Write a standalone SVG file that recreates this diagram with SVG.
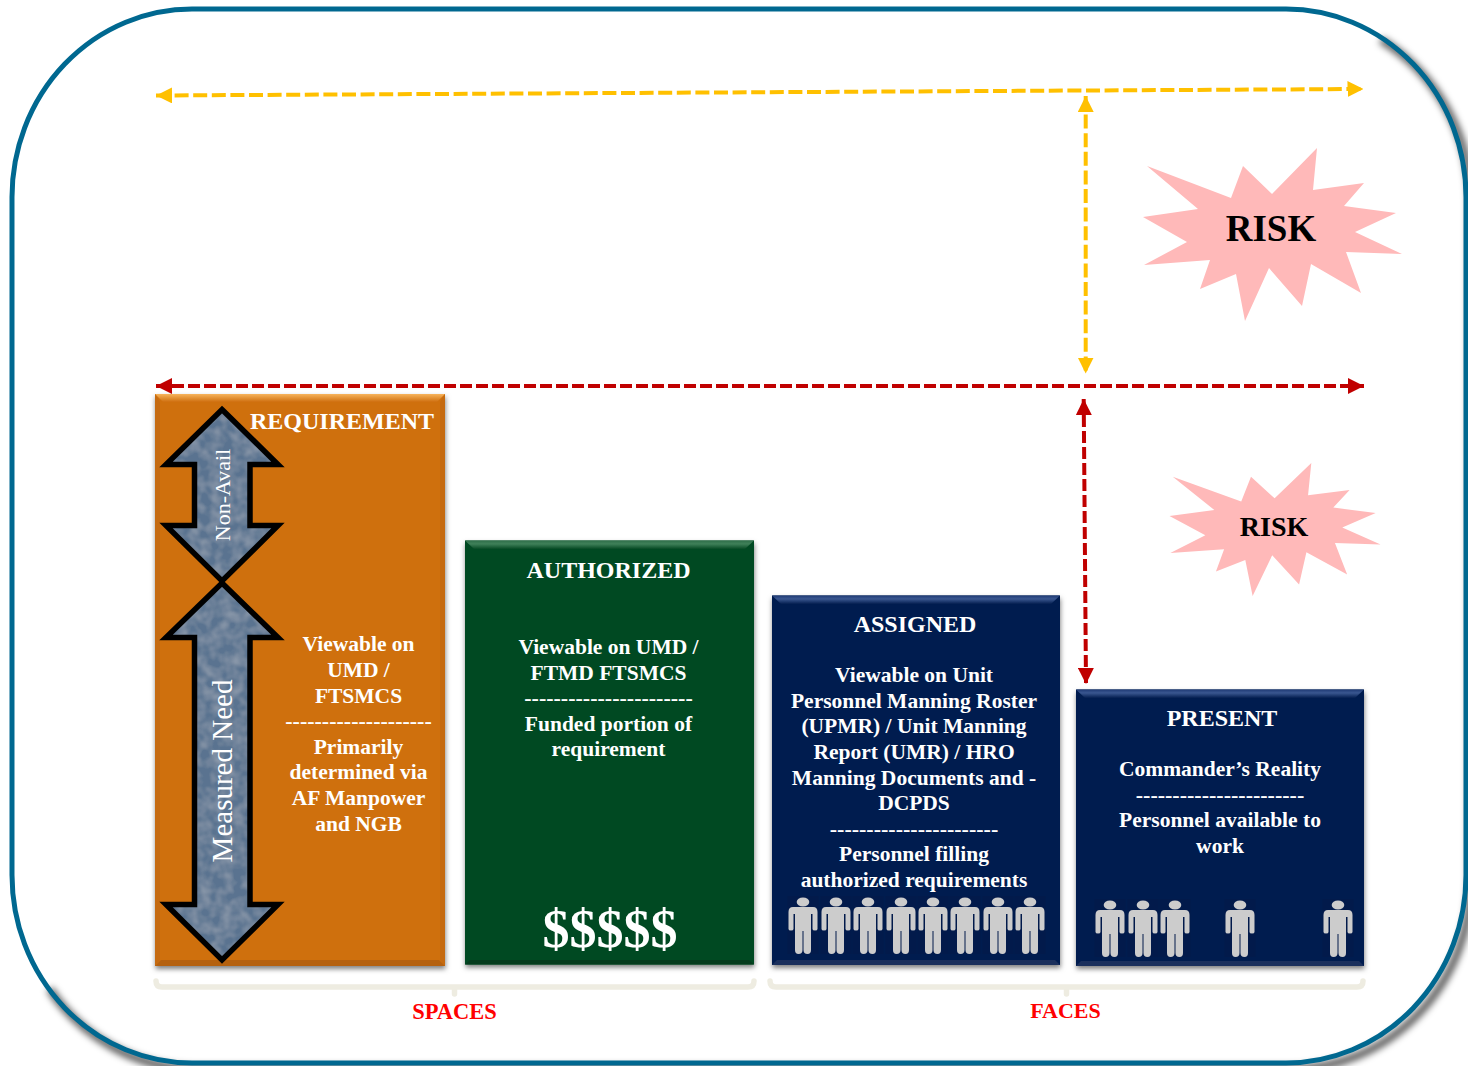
<svg xmlns="http://www.w3.org/2000/svg" width="1468" height="1066" viewBox="0 0 1468 1066">
<style>
text{font-family:"Liberation Serif","Times New Roman",serif;font-weight:bold;text-anchor:middle}
.w{fill:#fff;font-size:21.5px}
.d{fill:#fff;font-size:22px}
.h{fill:#fff;font-size:24px}
.red{fill:#f00;font-size:22px}
.risk{fill:#000}
.dy{fill:none;stroke:#ffc000;stroke-width:4;stroke-dasharray:14 4.600}
.dr{fill:none;stroke:#c00000;stroke-width:4;stroke-dasharray:12 4}
.af{fill:#5a7390;filter:url(#mott)}
.as{fill:none;stroke:#000;stroke-width:5.500;stroke-linejoin:miter}
.br{fill:none;stroke:#eeece1;stroke-width:5.500;stroke-linejoin:round;stroke-linecap:round}
.star{fill:#ffb9b9}
.person{fill:#ccc}
.tile{fill:#021a4b}
</style>
<defs>
<filter id="sh" x="-5%" y="-5%" width="110%" height="110%"><feDropShadow dx="0.500" dy="3" stdDeviation="2.500" flood-color="#000" flood-opacity=".5"/></filter>
<filter id="blur" x="-3%" y="-3%" width="106%" height="106%"><feGaussianBlur stdDeviation="3.500"/></filter>
<filter id="mott" x="0" y="0" width="100%" height="100%"><feTurbulence type="fractalNoise" baseFrequency=".09" numOctaves="2" seed="3" result="n"/><feColorMatrix in="n" type="matrix" values="0 0 0 0 1 0 0 0 0 1 0 0 0 0 1 .3 0 0 0 -.1" result="c"/><feComposite in="c" in2="SourceAlpha" operator="in" result="m"/><feMerge><feMergeNode in="SourceGraphic"/><feMergeNode in="m"/></feMerge></filter>
<linearGradient id="tO" x1="0" y1="0" x2="0" y2="1"><stop offset="0" stop-color="#f7b45c"/><stop offset="1" stop-color="#cf6f0f"/></linearGradient>
<linearGradient id="tG" x1="0" y1="0" x2="0" y2="1"><stop offset="0" stop-color="#2f6f4a"/><stop offset=".4" stop-color="#3f8059"/><stop offset="1" stop-color="#064a24"/></linearGradient>
<linearGradient id="tN" x1="0" y1="0" x2="0" y2="1"><stop offset="0" stop-color="#1f3a75"/><stop offset=".4" stop-color="#3a5790"/><stop offset="1" stop-color="#041e50"/></linearGradient>
<marker id="my" viewBox="0 0 10 10" refX="10" refY="5" markerWidth="4" markerHeight="4" orient="auto-start-reverse" markerUnits="strokeWidth"><path d="M0 0L10 5L0 10Z" fill="#ffc000"/></marker>
<marker id="mr" viewBox="0 0 10 10" refX="10" refY="5" markerWidth="4" markerHeight="4" orient="auto-start-reverse" markerUnits="strokeWidth"><path d="M0 0L10 5L0 10Z" fill="#c00000"/></marker>
<polygon id="burst" points="1147,166 1231,198 1243,166 1272,194 1317,148 1313,190 1364,183 1344,206 1396,213 1355,232 1402,254 1346,252 1361,293 1311,264 1302,306 1269,268 1245,321 1236,274 1200,289 1210,260 1144,265 1187,242 1143,217 1198,209"/>
<g id="man"><rect class="tile" x="-15.500" y="-31" width="31" height="58"/><g class="person"><ellipse cx="0" cy="-25" rx="6.300" ry="4.500"/><path d="M-10-20H10Q14.500-20 14.500-15V2Q14.500 3.500 12 3.500 9.500 3.500 9.500 2V-13H8V23Q8 27 4.500 27 .5 27 .5 23V4H-.5V23Q-.5 27-4.500 27-8 27-8 23V-13H-9.500V2Q-9.500 3.500-12 3.500-14.500 3.500-14.500 2V-15Q-14.500-20-10-20Z"/></g></g>
</defs>

<g id="frame">
<path d="M1381 40A180 188 0 0 1 1471 203V881A180 188 0 0 1 1291 1069H197A180 188 0 0 1 49.500 989" fill="none" stroke="#000" stroke-opacity=".7" stroke-width="7" filter="url(#blur)"/>
<rect x="12" y="9" width="1454" height="1054" rx="180" ry="188" fill="none" stroke="#006890" stroke-width="5"/>
</g>

<g id="connectors">
<path class="dy" d="M156 95.500L1363.500 89" marker-start="url(#my)" marker-end="url(#my)"/>
<path class="dy" d="M1085.700 96V373.500" marker-start="url(#my)" marker-end="url(#my)"/>
<path class="dr" d="M156 386H1364" marker-start="url(#mr)" marker-end="url(#mr)"/>
<path class="dr" d="M1083.700 399L1086 684" marker-start="url(#mr)" marker-end="url(#mr)"/>
<path class="br" d="M156 981Q156 987 162 987H748Q754 987 754 981M454.500 987V994"/>
<path class="br" d="M770 981Q770 987 776 987H1357Q1363 987 1363 981M1066.500 987V994"/>
</g>

<g id="requirement">
<rect x="155" y="394" width="290" height="572" fill="#cf6f0f" filter="url(#sh)"/>
<path d="M155 394H445L437 402H163Z" fill="url(#tO)"/>
<path d="M155 394L160 402V960L155 966Z" fill="#c56a10"/><path d="M445 394L440 402V960L445 966Z" fill="#c56a10"/><path d="M155 966L161 960H439L445 966Z" fill="#b5610f"/>
<text class="h" x="342" y="428.500">REQUIREMENT</text>
<text class="w" x="358.500" y="651">Viewable on</text>
<text class="w" x="358.500" y="677">UMD /</text>
<text class="w" x="358.500" y="703">FTSMCS</text>
<text class="d" x="358.500" y="728">--------------------</text>
<text class="w" x="358.500" y="754">Primarily</text>
<text class="w" x="358.500" y="779">determined via</text>
<text class="w" x="358.500" y="805">AF Manpower</text>
<text class="w" x="358.500" y="831">and NGB</text>
</g>

<g id="non-avail">
<polygon class="af" points="222,409.500 278,464.500 250,464.500 250,525.500 278,525.500 222,581 166,525.500 194.500,525.500 194.500,464.500 166,464.500"/>
<polygon class="as" points="222,409.500 278,464.500 250,464.500 250,525.500 278,525.500 222,581 166,525.500 194.500,525.500 194.500,464.500 166,464.500"/>
<text transform="translate(230 495) rotate(-90)" style="font-weight:normal;font-size:22px" fill="#fff">Non-Avail</text>
</g>
<g id="measured-need">
<polygon class="af" points="222,583 278,637.500 250,637.500 250,904.500 278,904.500 222,960 166,904.500 194.500,904.500 194.500,637.500 166,637.500"/>
<polygon class="as" points="222,583 278,637.500 250,637.500 250,904.500 278,904.500 222,960 166,904.500 194.500,904.500 194.500,637.500 166,637.500"/>
<text transform="translate(232 771) rotate(-90)" style="font-weight:normal;font-size:29px" fill="#fff">Measured Need</text>
</g>

<g id="authorized">
<rect x="465" y="540.500" width="289" height="424" fill="#064a24" filter="url(#sh)"/>
<path d="M465 540.500H754L745 549H474Z" fill="url(#tG)"/>
<path d="M465 964.500L470 960H749L754 964.500Z" fill="#053b1d"/>
<text class="h" x="608.500" y="578">AUTHORIZED</text>
<text class="w" x="608.500" y="654">Viewable on UMD /</text>
<text class="w" x="608.500" y="680">FTMD FTSMCS</text>
<text class="d" x="608.500" y="705">-----------------------</text>
<text class="w" x="608.500" y="731">Funded portion of</text>
<text class="w" x="608.500" y="756">requirement</text>
<text x="610" y="947" fill="#fff" style="font-size:54px">$$$$$</text>
</g>

<g id="assigned">
<rect x="772" y="595.500" width="288" height="369.500" fill="#041e50" filter="url(#sh)"/>
<path d="M772 595.500H1060L1051 604H781Z" fill="url(#tN)"/>
<path d="M772 965L777 960H1055L1060 965Z" fill="#1a2f5c"/>
<text class="h" x="915" y="631.500">ASSIGNED</text>
<text class="w" x="914" y="682">Viewable on Unit</text>
<text class="w" x="914" y="708">Personnel Manning Roster</text>
<text class="w" x="914" y="733">(UPMR) / Unit Manning</text>
<text class="w" x="914" y="759">Report (UMR) / HRO</text>
<text class="w" x="914" y="785">Manning Documents and -</text>
<text class="w" x="914" y="810">DCPDS</text>
<text class="d" x="914" y="836">-----------------------</text>
<text class="w" x="914" y="861">Personnel filling</text>
<text class="w" x="914" y="887">authorized requirements</text>
<use href="#man" x="803" y="927"/><use href="#man" x="836" y="927"/><use href="#man" x="868" y="927"/><use href="#man" x="901" y="927"/><use href="#man" x="933" y="927"/><use href="#man" x="965" y="927"/><use href="#man" x="998" y="927"/><use href="#man" x="1030" y="927"/>
</g>

<g id="present">
<rect x="1076" y="689.500" width="288" height="276.500" fill="#041e50" filter="url(#sh)"/>
<path d="M1076 689.500H1364L1355 698H1085Z" fill="url(#tN)"/>
<path d="M1076 966L1081 961H1359L1364 966Z" fill="#1a2f5c"/>
<text class="h" x="1222" y="725.500">PRESENT</text>
<text class="w" x="1220" y="776">Commander’s Reality</text>
<text class="d" x="1220" y="802">-----------------------</text>
<text class="w" x="1220" y="827">Personnel available to</text>
<text class="w" x="1220" y="853">work</text>
<use href="#man" x="1110" y="930"/><use href="#man" x="1143" y="930"/><use href="#man" x="1175" y="930"/><use href="#man" x="1240" y="930"/><use href="#man" x="1338" y="930"/>
</g>

<g id="risk-high">
<use href="#burst" class="star"/>
<text class="risk" x="1271" y="241" style="font-size:37px">RISK</text>
</g>
<g id="risk-low">
<use href="#burst" class="star" transform="translate(1169.500 463) scale(.815 .769) translate(-1143 -148)"/>
<text class="risk" x="1274" y="536" style="font-size:28px">RISK</text>
</g>

<g id="labels">
<text class="red" x="454.500" y="1019" style="font-size:22.500px">SPACES</text>
<text class="red" x="1065.500" y="1018">FACES</text>
</g>
</svg>
